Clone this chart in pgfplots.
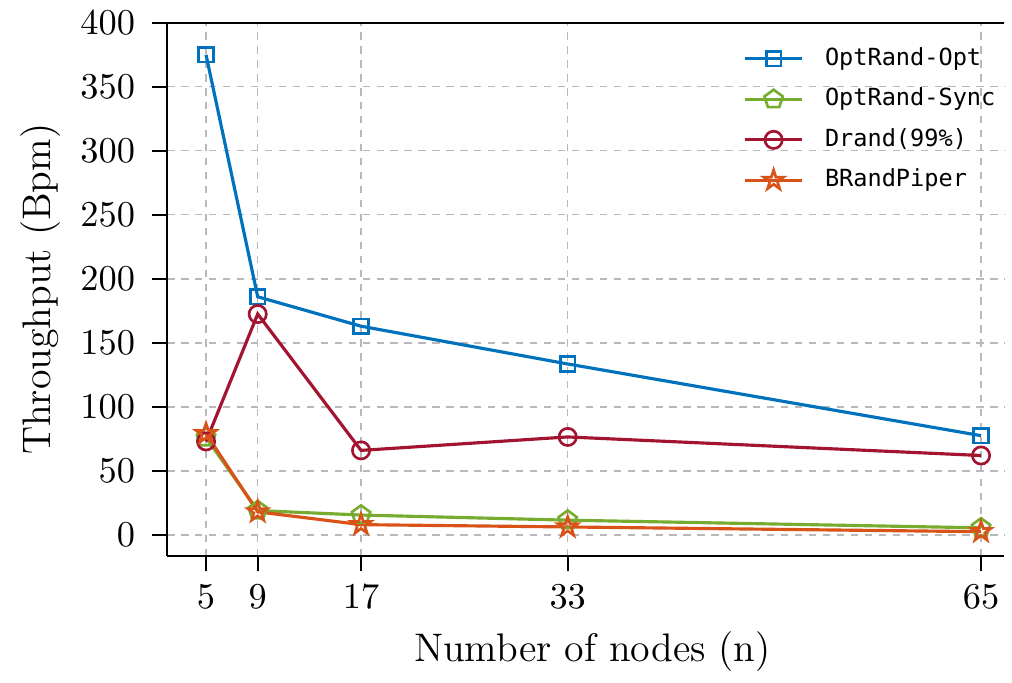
\documentclass[border=0pt]{standalone}
\usepackage{pgfplots}
\pgfplotsset{compat=1.18}
\usepackage{fontspec}
\newfontfamily\legfont{DejaVu Sans Mono}
\usetikzlibrary{plotmarks}
\definecolor{cblue}{HTML}{0072BD}
\definecolor{cgreen}{HTML}{77AC30}
\definecolor{cred}{HTML}{A2142F}
\definecolor{corange}{HTML}{D95319}
\pgfdeclareplotmark{ostar}{%
  \pgfpathmoveto{\pgfpointpolar{90}{\pgfplotmarksize}}%
  \pgfpathlineto{\pgfpointpolar{126}{0.382\pgfplotmarksize}}%
  \pgfpathlineto{\pgfpointpolar{162}{\pgfplotmarksize}}%
  \pgfpathlineto{\pgfpointpolar{198}{0.382\pgfplotmarksize}}%
  \pgfpathlineto{\pgfpointpolar{234}{\pgfplotmarksize}}%
  \pgfpathlineto{\pgfpointpolar{270}{0.382\pgfplotmarksize}}%
  \pgfpathlineto{\pgfpointpolar{306}{\pgfplotmarksize}}%
  \pgfpathlineto{\pgfpointpolar{342}{0.382\pgfplotmarksize}}%
  \pgfpathlineto{\pgfpointpolar{18}{\pgfplotmarksize}}%
  \pgfpathlineto{\pgfpointpolar{54}{0.382\pgfplotmarksize}}%
  \pgfpathclose
  \pgfusepathqstroke}
\begin{document}
\begin{tikzpicture}
\begin{axis}[
  scale only axis,
  width=252pt, height=160.5pt,
  xmin=2, xmax=66.8, ymin=-16.4, ymax=400,
  axis x line*=box, axis y line*=left,
  xtick={5,9,17,33,65},
  ytick={0,50,100,150,200,250,300,350,400},
  xtick pos=bottom, ytick pos=left,
  tick align=outside, major tick length=4.7pt,
  every tick/.style={black, line width=0.6pt},
  axis line style={line width=0.7pt, -},
  grid=major,
  major grid style={dashed, gray!55, line width=0.4pt, dash pattern=on 2.2pt off 2pt},
  tick label style={font=\fontsize{11}{13}\selectfont},
  yticklabel style={xshift=-1.5pt},
  xticklabel style={yshift=-0.6pt},
  label style={font=\fontsize{12}{14}\selectfont},
  xlabel={Number of nodes (n)},
  xlabel style={xshift=2pt},
  ylabel={Throughput (Bpm)},
  ylabel style={yshift=-1pt},
  legend style={draw=none, fill=none, at={(1.01,0.98)}, anchor=north east,
    font=\legfont\fontsize{7.1}{9}\selectfont, row sep=1.3pt,
    /tikz/every odd column/.append style={column sep=4.5pt}},
  legend cell align=left,
  legend image code/.code={
    \draw[mark repeat=2,mark phase=2] plot coordinates {(0pt,0pt) (8.5pt,0pt) (17pt,0pt)};},
  every axis plot/.append style={line width=0.95pt},
]
\addplot[cblue, mark=square, mark size=2.2pt, mark options={solid, line width=0.8pt}] coordinates {(5,375) (9,186) (17,163) (33,133.5) (65,77.5)};
\addlegendentry{OptRand-Opt}
\addplot[cgreen, mark=pentagon, mark size=2.9pt, mark options={solid, line width=0.8pt}] coordinates {(5,76) (9,19) (17,15.5) (33,11.5) (65,5.5)};
\addlegendentry{OptRand-Sync}
\addplot[cred, mark=o, mark size=2.6pt, mark options={solid, line width=0.8pt}] coordinates {(5,73) (9,172.5) (17,66) (33,76.5) (65,62)};
\addlegendentry{Drand(99\%)}
\addplot[corange, mark=ostar, mark size=3.1pt, mark options={solid, line width=0.8pt}] coordinates {(5,79) (9,18) (17,8) (33,6.2) (65,2.5)};
\addlegendentry{BRandPiper}
\end{axis}
\path ([xshift=-3pt]current bounding box.west);
\end{tikzpicture}
\end{document}
